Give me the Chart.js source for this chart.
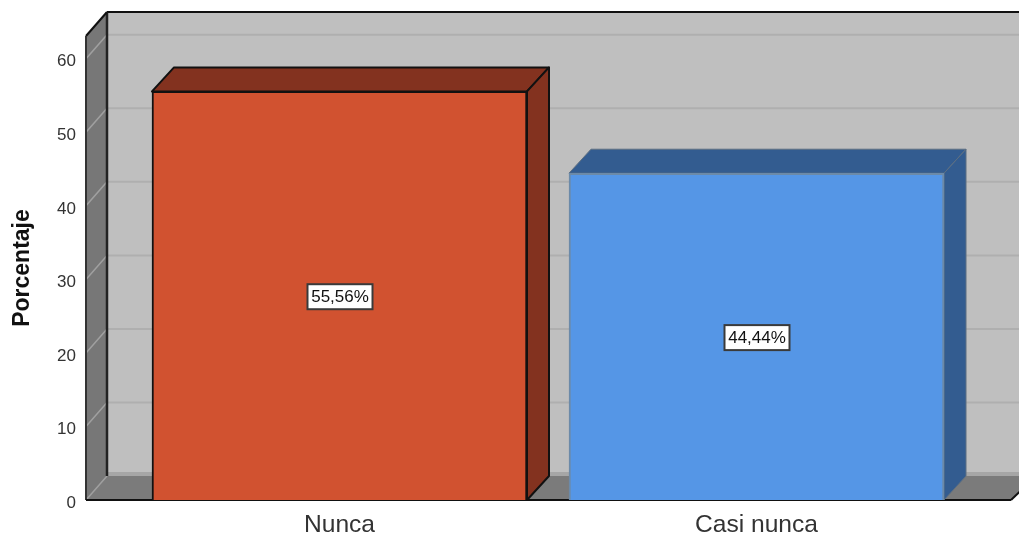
<!DOCTYPE html>
<html>
<head>
<meta charset="utf-8">
<script src="https://cdn.jsdelivr.net/npm/chart.js@4/dist/chart.umd.min.js"></script>
<style>
  html, body { margin: 0; padding: 0; background: #fff; overflow: hidden; }
  canvas { display: block; }
</style>
</head>
<body>
<canvas id="barChart" width="1019" height="533"></canvas>
<script>
const categories = ['Nunca', 'Casi nunca'];
const percentages = [55.56, 44.44];
const percentLabels = ['55,56%', '44,44%'];
const yTicks = [0, 10, 20, 30, 40, 50, 60];
const yMax = 63.1;

const frontColors = ['#d15230', '#5596e6'];
const sideColors = ['#83321f', '#335c90'];
const edgeColors = ['#111111', '#6c8aa8'];
const faceEdges = ['#111111', '#5d6f82'];
const faceEdgeWidths = [2, 1];

// 3D look
const wallDx = 21, wallDy = 24, barDx = 22, barDy = 24;
const frameOverhang = 45; // frame starts left of the first category band

function poly(ctx, pts, fill, stroke, lw) {
    ctx.beginPath();
    pts.forEach((p, i) => i ? ctx.lineTo(p[0], p[1]) : ctx.moveTo(p[0], p[1]));
    ctx.closePath();
    if (fill) { ctx.fillStyle = fill; ctx.fill(); }
    if (stroke) { ctx.strokeStyle = stroke; ctx.lineWidth = lw || 1; ctx.stroke(); }
}

function seg(ctx, x1, y1, x2, y2, color, lw) {
    ctx.beginPath();
    ctx.moveTo(x1, y1);
    ctx.lineTo(x2, y2);
    ctx.strokeStyle = color;
    ctx.lineWidth = lw;
    ctx.stroke();
}

const frame3d = {
    id: 'frame3d',
    beforeDatasetsDraw(chart) {
        const ctx = chart.ctx, y = chart.scales.y, area = chart.chartArea;
        const left = area.left - frameOverhang, right = left + 925;
        const top = area.top, bottom = area.bottom;
        const farRight = right + wallDx + 4;
        ctx.save();
        ctx.lineJoin = 'round';

        // back wall
        ctx.fillStyle = '#bfbfbf';
        ctx.fillRect(left + wallDx, top - wallDy, farRight, bottom - top);

        // left wall
        poly(ctx, [[left, top], [left + wallDx, top - wallDy], [left + wallDx, bottom - wallDy], [left, bottom]], '#777777');

        // floor
        poly(ctx, [[left, bottom], [left + wallDx, bottom - wallDy], [farRight, bottom - wallDy], [right, bottom]], '#7b7b7b');
        seg(ctx, left + wallDx, bottom - wallDy - 2, farRight, bottom - wallDy - 2, '#a6a6a6', 4);

        // grid on back wall and left wall
        yTicks.forEach(v => {
            const py = y.getPixelForValue(v);
            if (v > 0) {
                seg(ctx, left + wallDx, py - wallDy, farRight, py - wallDy, '#afafaf', 2);
            }
            seg(ctx, left, py, left + wallDx, py - wallDy, '#a0a0a0', 1.5);
        });

        // outlines
        seg(ctx, left + wallDx, top - wallDy, farRight, top - wallDy, '#111111', 2);
        seg(ctx, left + wallDx, top - wallDy, left + wallDx, bottom - wallDy, '#222222', 2.5);
        seg(ctx, left, top, left + wallDx, top - wallDy, '#111111', 2);
        seg(ctx, left, top, left, bottom, '#333333', 2);
        seg(ctx, left, bottom, right, bottom, '#111111', 2);
        seg(ctx, right, bottom, farRight, bottom - wallDy, '#111111', 2);

        // bar top and side faces
        chart.getDatasetMeta(0).data.forEach((bar, i) => {
            const hw = bar.width / 2;
            const l = bar.x - hw, r = bar.x + hw, t = bar.y, b = bar.base;
            poly(ctx, [[l, t], [l + barDx, t - barDy], [r + barDx, t - barDy], [r, t]], sideColors[i], faceEdges[i], faceEdgeWidths[i]);
            poly(ctx, [[r, t], [r + barDx, t - barDy], [r + barDx, b - barDy], [r, b]], sideColors[i], faceEdges[i], faceEdgeWidths[i]);
        });
        ctx.restore();
    },
    afterDatasetsDraw(chart) {
        // value boxes in the middle of each bar
        const ctx = chart.ctx;
        ctx.save();
        ctx.font = '17px "Liberation Sans", Arial, sans-serif';
        ctx.textAlign = 'center';
        ctx.textBaseline = 'middle';
        chart.getDatasetMeta(0).data.forEach((bar, i) => {
            const cx = bar.x + 0.5;
            const cy = (bar.y + bar.base) / 2 + 1;
            const w = 65, h = 25;
            ctx.fillStyle = '#ffffff';
            ctx.fillRect(cx - w / 2, cy - h / 2, w, h);
            ctx.strokeStyle = '#3a3a3a';
            ctx.lineWidth = 2;
            ctx.strokeRect(cx - w / 2, cy - h / 2, w, h);
            ctx.fillStyle = '#111111';
            ctx.fillText(percentLabels[i], cx, cy + 1);
        });
        ctx.restore();
    }
};

new Chart(document.getElementById('barChart'), {
    type: 'bar',
    data: {
        labels: categories,
        datasets: [{
            data: percentages,
            backgroundColor: frontColors,
            borderColor: edgeColors,
            borderWidth: 2,
            barThickness: 375
        }]
    },
    plugins: [frame3d],
    options: {
        responsive: false,
        animation: false,
        layout: { padding: { top: 36, right: 54, left: 0, bottom: 0 } },
        plugins: { legend: { display: false }, tooltip: { enabled: false } },
        scales: {
            x: {
                grid: { display: false, drawTicks: false },
                border: { display: false },
                afterFit(scale) { scale.height = 33; scale.paddingLeft = 0; scale.paddingRight = 0; },
                ticks: {
                    padding: 10,
                    maxRotation: 0,
                    color: '#333333',
                    font: { family: '"Liberation Sans", Arial, sans-serif', size: 24.6 }
                }
            },
            y: {
                min: 0,
                max: yMax,
                grid: { display: false, drawTicks: false },
                border: { display: false },
                afterFit(scale) { scale.width = 131; scale.paddingTop = 0; scale.paddingBottom = 0; },
                afterBuildTicks(scale) { scale.ticks = yTicks.map(v => ({ value: v })); },
                title: {
                    display: true,
                    text: 'Porcentaje',
                    color: '#111111',
                    padding: { top: 9, bottom: 0 },
                    font: { family: '"Liberation Sans", Arial, sans-serif', size: 23, weight: 'bold' }
                },
                ticks: {
                    padding: 55,
                    labelOffset: 3,
                    color: '#333333',
                    font: { family: '"Liberation Sans", Arial, sans-serif', size: 17 }
                }
            }
        }
    }
});
</script>
</body>
</html>
